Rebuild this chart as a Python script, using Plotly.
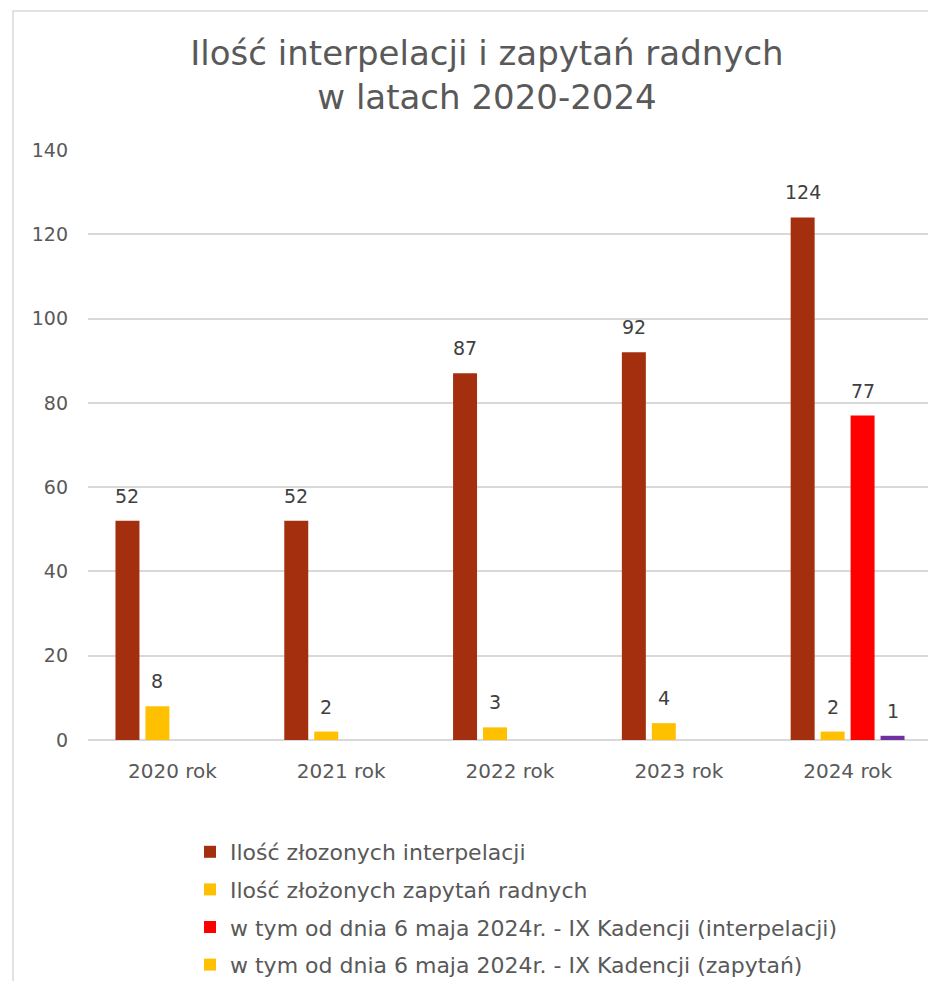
import plotly.graph_objects as go

categories = ["2020 rok", "2021 rok", "2022 rok", "2023 rok", "2024 rok"]
series_names = [
    "Ilość złozonych interpelacji",
    "Ilość złożonych zapytań radnych",
    "w tym od dnia 6 maja 2024r. - IX Kadencji (interpelacji)",
    "w tym od dnia 6 maja 2024r. - IX Kadencji (zapytań)",
]
interpelacje = [52, 52, 87, 92, 124]
zapytania = [8, 2, 3, 4, 2]
ix_interpelacje = [None, None, None, None, 77]
ix_zapytania = [None, None, None, None, 1]

series_values = [interpelacje, zapytania, ix_interpelacje, ix_zapytania]
series_colors = [
    "#A42F0F",
    "#FFC000",
    "#FF0000",
    ["#FFC000", "#FFC000", "#FFC000", "#FFC000", "#7030A0"],
]

FONT = "DejaVu Sans"
TXT = "#595959"
# the page body has an 8px margin, so the figure is drawn 8px in from the corner
OFF = 8
W, H = 936 - OFF, 981 - OFF
ML, MR, MT, MB = 88 - OFF, 4, 150 - OFF, 241
BARGAP = 0.29
BARGROUPGAP = 0.2

fig = go.Figure()
for k, (name, vals, col) in enumerate(zip(series_names, series_values, series_colors)):
    fig.add_trace(go.Bar(
        x=categories, y=vals, name=name,
        marker=dict(color=col, line=dict(width=0)),
        legendgroup=f"g{k}",
        hoverinfo="x+y",
    ))

# data labels as annotations, positioned from the data values
n = len(series_values)
slot = (1 - BARGAP) / n
annotations = []
for k, vals in enumerate(series_values):
    off = -(1 - BARGAP) / 2 + (k + 0.5) * slot
    for j, v in enumerate(vals):
        if v is None:
            continue
        annotations.append(dict(
            x=j + off, y=v, xref="x", yref="y", text=str(v),
            showarrow=False, yanchor="bottom", yshift=12,
            font=dict(family=FONT, size=19, color="#404040"),
        ))

pw = W - ML - MR
ph = H - MT - MB
border = dict(
    type="rect", xref="paper", yref="paper",
    x0=(13 - OFF - ML) / pw, x1=(W + 20 - ML) / pw,
    y0=-(H + 20 - MT - ph) / ph, y1=1 + (MT - (11 - OFF)) / ph,
    line=dict(color="#D9D9D9", width=1.5), fillcolor="rgba(0,0,0,0)",
    layer="below",
)

fig.update_layout(
    width=W, height=H,
    margin=dict(l=ML, r=MR, t=MT, b=MB, autoexpand=False),
    paper_bgcolor="white", plot_bgcolor="white",
    barmode="group", bargap=BARGAP, bargroupgap=BARGROUPGAP,
    font=dict(family=FONT, color=TXT),
    title=dict(
        text="Ilość interpelacji i zapytań radnych<br>w latach 2020-2024",
        x=(487 - OFF - ML) / pw, xref="paper", xanchor="center",
        y=1 - 57 / H, yanchor="top",
        font=dict(family=FONT, size=34, color=TXT),
    ),
    xaxis=dict(
        type="category", showgrid=False, showline=False, zeroline=False,
        ticks="", tickfont=dict(family=FONT, size=20, color=TXT),
        ticklabelstandoff=17, automargin=False,
    ),
    yaxis=dict(
        range=[0, 140], dtick=20, showgrid=True, gridcolor="#D9D9D9", gridwidth=1.5,
        zeroline=True, zerolinecolor="#D9D9D9", zerolinewidth=1.5,
        showline=False, ticks="", tickfont=dict(family=FONT, size=19, color=TXT),
        ticklabelstandoff=19, automargin=False,
    ),
    legend=dict(
        orientation="v", xref="container", yref="container",
        x=182 / W, xanchor="left",
        y=1 - 823 / H, yanchor="top",
        font=dict(family=FONT, size=22, color=TXT),
        tracegroupgap=6, bgcolor="rgba(0,0,0,0)",
    ),
    annotations=annotations,
    shapes=[border],
    showlegend=True,
)

fig.write_html("out.html")
